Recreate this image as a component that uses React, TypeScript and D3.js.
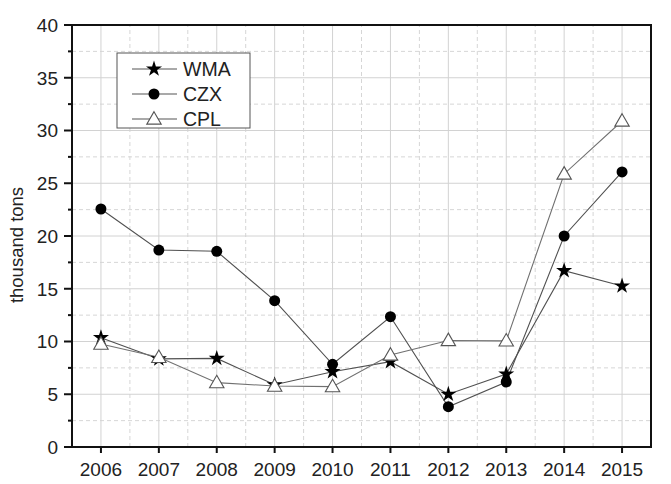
import React from "react";
import * as d3 from "d3";

// years on the x axis
const years = [2006, 2007, 2008, 2009, 2010, 2011, 2012, 2013, 2014, 2015];
// series values, thousand tons
const wma = [10.36, 8.35, 8.4, 5.9, 7.14, 8.09, 5.0, 6.92, 16.71, 15.26];
const czx = [22.56, 18.67, 18.55, 13.87, 7.84, 12.35, 3.82, 6.16, 20.0, 26.07];
const cpl = [9.76, 8.5, 6.1, 5.78, 5.72, 8.72, 10.1, 10.06, 25.88, 30.9];
const yTicks = [0, 5, 10, 15, 20, 25, 30, 35, 40];
const yMinor = [2.5, 7.5, 12.5, 17.5, 22.5, 27.5, 32.5, 37.5];
const seriesNames = ["WMA", "CZX", "CPL"];

const W = 671;
const H = 484;
const M = { left: 72, right: 20, top: 25, bottom: 37 };
const FONT = "'Liberation Sans', Arial, sans-serif";

const Marker = ({ kind, x, y }: { kind: string; x: number; y: number }) => {
  if (kind === "WMA") {
    const star = d3.symbol().type(d3.symbolStar).size(80)();
    return <path d={star || ""} transform={`translate(${x},${y})`} fill="#000" />;
  }
  if (kind === "CZX") {
    return <circle cx={x} cy={y} r={5.5} fill="#000" />;
  }
  const tri = d3.symbol().type(d3.symbolTriangle).size(90)();
  return (
    <path d={tri || ""} transform={`translate(${x},${y + 1})`} fill="#fff" stroke="#555" strokeWidth={1.1} />
  );
};

export default function App() {
  const x = d3.scaleLinear().domain([2005.5, 2015.5]).range([M.left, W - M.right]);
  const y = d3.scaleLinear().domain([0, 40]).range([H - M.bottom, M.top]);
  const line = d3
    .line<number>()
    .x((_, i) => x(years[i]))
    .y((d) => y(d));

  const data: Record<string, number[]> = { WMA: wma, CZX: czx, CPL: cpl };
  const halfYears = years.slice(0, -1).map((yr) => yr + 0.5);
  const [x0, x1] = x.range();
  const [y0, y1] = y.range();

  return (
    <svg width={W} height={H} style={{ position: "absolute", left: 0, top: 0, background: "#fff" }}>
      {/* grid */}
      {yMinor.map((v) => (
        <line key={"ym" + v} x1={x0} x2={x1} y1={y(v)} y2={y(v)} stroke="#d6d6d6" strokeDasharray="4,3" />
      ))}
      {halfYears.map((v) => (
        <line key={"xm" + v} x1={x(v)} x2={x(v)} y1={y0} y2={y1} stroke="#d6d6d6" strokeDasharray="4,3" />
      ))}
      {yTicks.map((v) => (
        <line key={"yg" + v} x1={x0} x2={x1} y1={y(v)} y2={y(v)} stroke="#d2d2d2" />
      ))}
      {years.map((v) => (
        <line key={"xg" + v} x1={x(v)} x2={x(v)} y1={y0} y2={y1} stroke="#d2d2d2" />
      ))}

      {/* lines */}
      {seriesNames.map((s) => (
        <path key={s} d={line(data[s]) || ""} fill="none" stroke={s === "CPL" ? "#707070" : "#505050"} strokeWidth={1.1} />
      ))}
      {seriesNames.map((s) =>
        data[s].map((v, i) => <Marker key={s + i} kind={s} x={x(years[i])} y={y(v)} />)
      )}

      {/* frame */}
      <rect x={x0} y={y1} width={x1 - x0} height={y0 - y1} fill="none" stroke="#111" strokeWidth={2} />

      {/* y axis */}
      {yTicks.map((v) => (
        <g key={"yt" + v}>
          <line x1={x0 - 8} x2={x0} y1={y(v)} y2={y(v)} stroke="#111" strokeWidth={2} />
          <text x={x0 - 14} y={y(v)} dy="0.36em" textAnchor="end" fontFamily={FONT} fontSize={19} fill="#222">
            {v}
          </text>
        </g>
      ))}
      {yMinor.map((v) => (
        <line key={"ymt" + v} x1={x0 - 4} x2={x0} y1={y(v)} y2={y(v)} stroke="#111" strokeWidth={2} />
      ))}

      {/* x axis */}
      {years.map((v) => (
        <g key={"xt" + v}>
          <line x1={x(v)} x2={x(v)} y1={y0} y2={y0 + 6} stroke="#111" strokeWidth={2} />
          <text x={x(v)} y={y0 + 29} textAnchor="middle" fontFamily={FONT} fontSize={19} fill="#222">
            {v}
          </text>
        </g>
      ))}

      <text
        transform={`translate(23,245) rotate(-90)`}
        textAnchor="middle"
        fontFamily={FONT}
        fontSize={18.5}
        fill="#222"
      >
        thousand tons
      </text>

      {/* legend */}
      <rect x={117} y={53} width={133} height={75} fill="#fff" stroke="#555" strokeWidth={1} />
      {seriesNames.map((s, i) => {
        const ly = 69 + i * 25;
        return (
          <g key={"lg" + s}>
            <line x1={132} x2={177} y1={ly} y2={ly} stroke="#555" strokeWidth={1.1} />
            <Marker kind={s} x={154} y={ly} />
            <text x={183} y={ly} dy="0.36em" fontFamily={FONT} fontSize={19.5} fill="#222">
              {s}
            </text>
          </g>
        );
      })}
    </svg>
  );
}
